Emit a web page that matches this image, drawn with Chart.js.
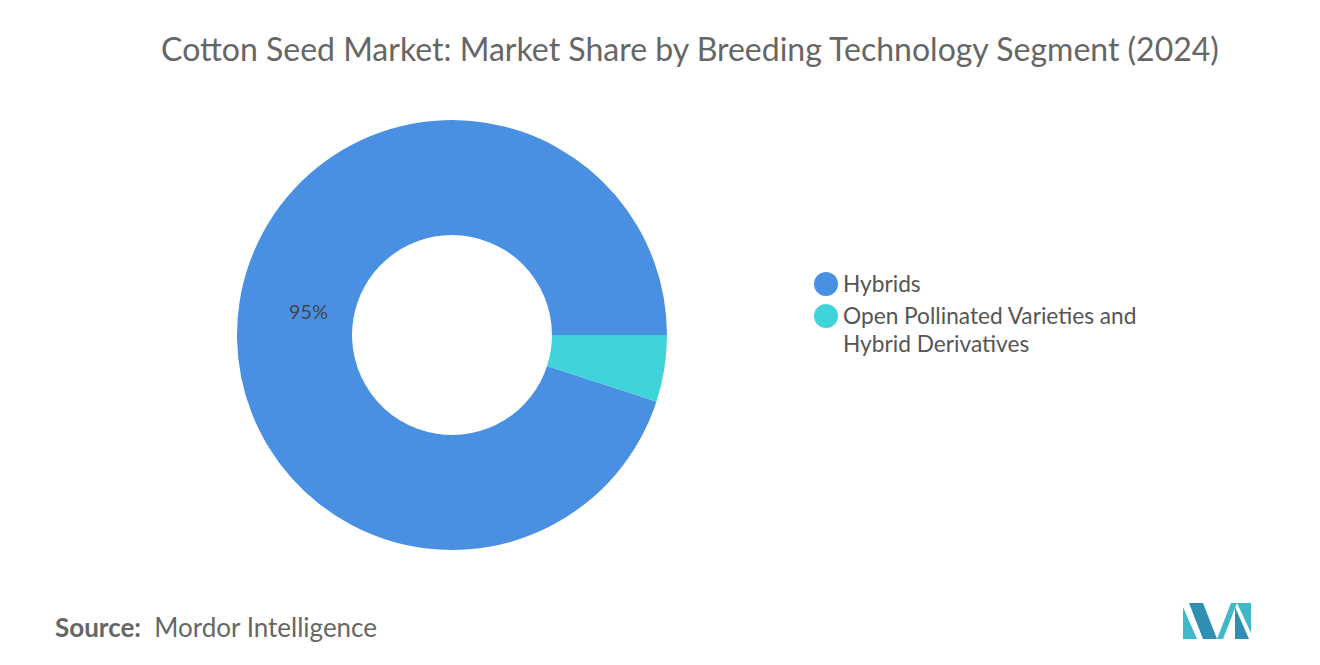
<!DOCTYPE html>
<html><head><meta charset="utf-8">
<script src="https://cdn.jsdelivr.net/npm/chart.js"></script>
<style>
body{margin:0;width:1320px;height:665px;background:#fff;font-family:Lato,"Open Sans",sans-serif;position:relative;overflow:hidden}
#title{position:absolute;top:29px;left:0;width:1380px;text-align:center;font-size:32px;color:#666}
#wrap{position:absolute;left:232px;top:115px;width:440px;height:440px}
.leg{position:absolute;left:814px;font-size:22.7px;color:#555;line-height:28px}
.dot{position:absolute;left:0;top:2px;width:24px;height:24px;border-radius:50%}
.leg span{display:block;padding-left:29px}
#src{position:absolute;left:55px;top:611px;font-size:26px;color:#666}
</style></head><body>
<div id="title">Cotton Seed Market: Market Share by Breeding Technology Segment (2024)</div>
<div id="wrap"><canvas id="c"></canvas></div>
<div class="leg" style="top:270px"><div class="dot" style="background:#4a90e2"></div><span>Hybrids</span></div>
<div class="leg" style="top:302px"><div class="dot" style="background:#3fd4d9"></div><span>Open Pollinated Varieties and<br>Hybrid Derivatives</span></div>
<div id="src"><b style="font-weight:700">Source:</b>&nbsp; Mordor Intelligence</div>
<svg style="position:absolute;left:1183px;top:603px" width="68" height="36">
<polygon points="0,36 0,4 14,36" fill="#3fb8c8"/><polygon points="6,0 20,0 34,36 20,36" fill="#2f8fb0"/>
<polygon points="34,36 48,0 54,0 40,36" fill="#3fb8c8"/><polygon points="52,36 52,4 66,36" fill="#2f8fb0"/><polygon points="54,0 68,0 68,30" fill="#3fb8c8"/>
</svg>
<script>
const categories=["Hybrids","Open Pollinated Varieties and Hybrid Derivatives"];
const shares=[95,5];
const colors=["#4a90e2","#3fd4d9"];
const labelPlugin={id:"lbl",afterDatasetsDraw(ch){const ctx=ch.ctx;const a=ch.getDatasetMeta(0).data[0];
const p=a.getProps(["x","y","startAngle","endAngle","innerRadius","outerRadius"]);const m=(p.startAngle+p.endAngle)/2;const r=(p.innerRadius+p.outerRadius)/2-12;
ctx.save();ctx.font="20px Lato";ctx.fillStyle="#444";ctx.textAlign="center";ctx.textBaseline="middle";
ctx.fillText(shares[0]+"%",p.x+Math.cos(m)*r,p.y+Math.sin(m)*r);ctx.restore();}};
new Chart(document.getElementById("c"),{type:"doughnut",data:{labels:categories,datasets:[{data:shares,backgroundColor:colors,borderWidth:0}]},
options:{responsive:true,maintainAspectRatio:false,animation:false,rotation:108,cutout:"46.5%",layout:{padding:5},plugins:{legend:{display:false},tooltip:{enabled:false}}},plugins:[labelPlugin]});
</script></body></html>
